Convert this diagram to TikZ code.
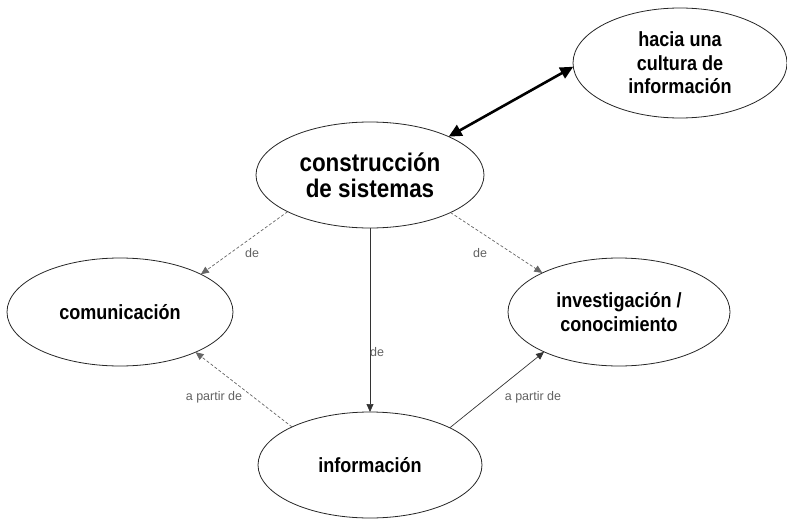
\documentclass[tikz,border=0pt]{standalone}
\usepackage{fontspec}
\setmainfont{Liberation Sans}
\newfontfamily\nodefont[FakeStretch=0.88]{Liberation Sans}
\usetikzlibrary{arrows.meta,shapes.geometric}
\begin{document}
\begin{tikzpicture}[x=1pt,y=-1pt,
  oval/.style={ellipse,draw=black!85,line width=0.8pt,fill=white,inner sep=0pt,outer sep=0pt,align=center,
    font=\nodefont\bfseries\fontsize{20.5}{23.5}\selectfont},
  bigoval/.style={oval,font=\nodefont\bfseries\fontsize{25.5}{26}\selectfont},
  lbl/.style={font=\fontsize{12.5}{14}\selectfont,text=black!62,inner sep=0pt},
  thinarrow/.style={draw=black!80,line width=0.7pt,-{Triangle[length=8pt,width=7pt]}},
  dasharrow/.style={thinarrow,draw=black!60,dash pattern=on 3pt off 2pt},
  bigarrow/.style={draw=black,line width=2.6pt,{Triangle[length=13pt,width=12pt]}-{Triangle[length=13pt,width=12pt]}}
]
\useasboundingbox (0,0) rectangle (787,519);
\node[oval,minimum width=214pt,minimum height=110pt] (hac) at (680,63) {hacia una\\cultura de\\información};
\node[bigoval,minimum width=228pt,minimum height=106pt] (cons) at (370,175) {construcción\\de sistemas};
\node[oval,minimum width=226pt,minimum height=108pt] (com) at (120,312) {comunicación};
\node[oval,minimum width=222pt,minimum height=108pt] (inv) at (619,312) {investigación /\\conocimiento};
\node[oval,minimum width=224pt,minimum height=106pt] (inf) at (370,465) {información};

\draw[bigarrow] (cons.26) -- (hac.182);
\draw[dasharrow] (cons.204.5) -- (com.25.8);
\draw[dasharrow] (cons.335.4) -- (inv.153.4);
\draw[thinarrow] (cons.south) -- (inf.north);
\draw[dasharrow] (inf.154.6) -- (com.332.6);
\draw[thinarrow] (inf.25.4) -- (inv.208);

\node[lbl] (l1) at (252,253) {de};
\node[lbl] (l2) at (480,253) {de};
\node[lbl] (l3) at (377,352) {de};
\node[lbl] (l4) at (214,397) {a partir de};
\node[lbl] (l5) at (533,397) {a partir de};
\end{tikzpicture}
\end{document}
